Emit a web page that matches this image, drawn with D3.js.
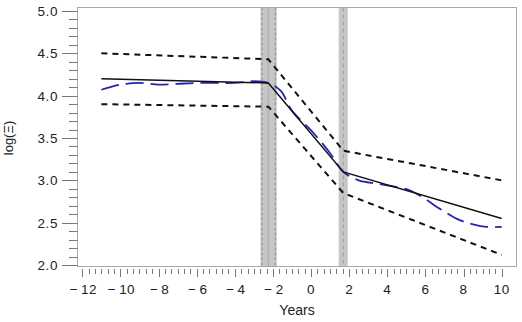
<!DOCTYPE html>
<html>
<head>
<meta charset="utf-8">
<script src="https://cdn.jsdelivr.net/npm/d3@7"></script>
<style>
  body { margin: 0; background: #fff; }
  text { font-family: "Liberation Sans", Arial, sans-serif; }
</style>
</head>
<body>
<svg id="chart" width="522" height="322"></svg>
<script>
// fitted piecewise line and its confidence limits
var knotYears = [-11, -2.24, 1.69, 10];
var fitVals = [4.20, 4.15, 3.10, 2.55];
var upperVals = [4.50, 4.43, 3.35, 3.00];
var lowerVals = [3.90, 3.87, 2.85, 2.12];

// smoothed curve (blue dashed)
var smoothYears = [-11, -10, -9, -8, -7, -6, -5, -4, -3, -2.26, -1.6, -1, 0, 1, 1.69, 2.5, 3.5, 4.5, 5.2, 6, 6.5, 7, 7.8, 8.5, 9.2, 10];
var smoothVals = [4.07, 4.13, 4.15, 4.13, 4.14, 4.15, 4.15, 4.15, 4.17, 4.15, 4.06, 3.82, 3.59, 3.32, 3.10, 3.00, 2.96, 2.92, 2.88, 2.78, 2.70, 2.63, 2.53, 2.48, 2.45, 2.45];

// shaded breakpoint intervals
var bandLo = [-2.65, 1.45];
var bandHi = [-1.80, 1.92];
var bandMid = [-2.24, 1.69];

var xTicks = [-12, -10, -8, -6, -4, -2, 0, 2, 4, 6, 8, 10];
var yTicks = [2.0, 2.5, 3.0, 3.5, 4.0, 4.5, 5.0];

var svg = d3.select('#chart');

var x = d3.scaleLinear().domain([-12, 10]).range([82.3, 501.7]);
var y = d3.scaleLinear().domain([2, 5]).range([265, 11]);

var frameL = 77.5, frameR = 516.5, frameT = 7.5, frameB = 266.5;

// bands
for (var i = 0; i < bandLo.length; i++) {
  svg.append('rect')
    .attr('x', x(bandLo[i]))
    .attr('y', frameT)
    .attr('width', x(bandHi[i]) - x(bandLo[i]))
    .attr('height', frameB - frameT)
    .attr('fill', '#c6c6c6');
  if (i == 0) {
    [bandLo[i], bandHi[i]].forEach(function (v, j) {
      svg.append('line')
        .attr('x1', x(v) + (j == 0 ? 1.5 : -1.5)).attr('x2', x(v) + (j == 0 ? 1.5 : -1.5))
        .attr('y1', frameT).attr('y2', frameB)
        .attr('stroke', '#8c8c8c')
        .attr('stroke-dasharray', '3,2');
    });
    svg.append('line')
      .attr('x1', x(bandMid[i])).attr('x2', x(bandMid[i]))
      .attr('y1', frameT).attr('y2', frameB)
      .attr('stroke', '#b2b2b2').attr('stroke-width', 1.5);
  } else {
    svg.append('line')
      .attr('x1', x(bandMid[i])).attr('x2', x(bandMid[i]))
      .attr('y1', frameT).attr('y2', frameB)
      .attr('stroke', '#9a9a9a')
      .attr('stroke-dasharray', '4,3');
  }
}

// frame
svg.append('rect')
  .attr('x', frameL).attr('y', frameT)
  .attr('width', frameR - frameL).attr('height', frameB - frameT)
  .attr('fill', 'none').attr('stroke', '#a8a8a8');

// y axis ticks
var yMinor = d3.range(20, 51).map(function (d) { return d / 10; });
svg.selectAll('.ytick').data(yMinor).enter().append('line')
  .attr('x1', function (d) { return Math.round(d * 10) % 5 == 0 ? 62 : 69; })
  .attr('x2', frameL)
  .attr('y1', function (d) { return Math.round(y(d)) + 0.5; })
  .attr('y2', function (d) { return Math.round(y(d)) + 0.5; })
  .attr('stroke', '#777');

svg.selectAll('.ylab').data(yTicks).enter().append('text')
  .attr('x', 58)
  .attr('y', function (d) { return y(d) + 5; })
  .attr('text-anchor', 'end')
  .style('font-size', '13.5px')
  .style('letter-spacing', '0.6px')
  .attr('fill', '#222')
  .text(function (d) { return d3.format('.1f')(d); });

// x axis ticks
var xMinor = d3.range(0, 67).map(function (d) { return -12 + d / 3; });
svg.selectAll('.xtick').data(xMinor).enter().append('line')
  .attr('x1', function (d) { return Math.round(x(d)) + 0.5; })
  .attr('x2', function (d) { return Math.round(x(d)) + 0.5; })
  .attr('y1', 269)
  .attr('y2', function (d, i) { return i % 6 == 0 ? 277 : 274; })
  .attr('stroke', '#777');

svg.selectAll('.xlab').data(xTicks).enter().append('text')
  .attr('x', function (d) { return x(d) + (d < 0 ? 1 : 0); })
  .attr('y', 294)
  .attr('text-anchor', 'middle')
  .style('font-size', '13.5px')
  .style('letter-spacing', '0.4px')
  .attr('fill', '#222')
  .text(function (d) { return d < 0 ? '\u2212\u2009' + Math.abs(d) : d; });

svg.append('text')
  .attr('x', (frameL + frameR) / 2)
  .attr('y', 315)
  .attr('text-anchor', 'middle')
  .style('font-size', '14px')
  .attr('fill', '#222')
  .text('Years');

svg.append('text')
  .attr('transform', 'translate(13,138) rotate(-90)')
  .attr('text-anchor', 'middle')
  .style('font-size', '13px')
  .attr('fill', '#222')
  .text('log(Ξ)');

// lines
var line = d3.line()
  .x(function (d) { return x(d[0]); })
  .y(function (d) { return y(d[1]); });

var smooth = d3.line()
  .x(function (d) { return x(d[0]); })
  .y(function (d) { return y(d[1]); })
  .curve(d3.curveCatmullRom);

function pairs(xs, ys) { return xs.map(function (v, i) { return [v, ys[i]]; }); }

[upperVals, lowerVals].forEach(function (vals) {
  svg.append('path')
    .attr('d', line(pairs(knotYears, vals)))
    .attr('fill', 'none')
    .attr('stroke', '#111')
    .attr('stroke-width', 2)
    .attr('stroke-dasharray', '6,5');
});

svg.append('path')
  .attr('d', smooth(pairs(smoothYears, smoothVals)))
  .attr('fill', 'none')
  .attr('stroke', '#2424b4')
  .attr('stroke-width', 1.8)
  .attr('stroke-dasharray', '18,7');

svg.append('path')
  .attr('d', line(pairs(knotYears, fitVals)))
  .attr('fill', 'none')
  .attr('stroke', '#111')
  .attr('stroke-width', 1.5);
</script>
</body>
</html>
